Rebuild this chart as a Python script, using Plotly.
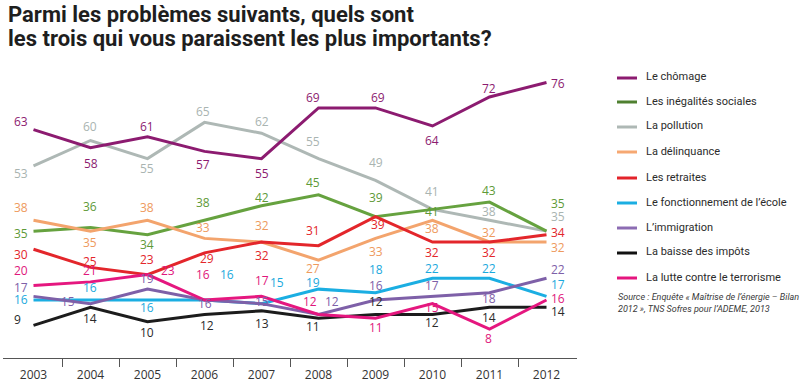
import plotly.graph_objects as go

years = [2003, 2004, 2005, 2006, 2007, 2008, 2009, 2010, 2011, 2012]
year_labels = [str(y) for y in years]

series_names = [
    "Le chômage",
    "Les inégalités sociales",
    "La pollution",
    "La délinquance",
    "Les retraites",
    "Le fonctionnement de l’école",
    "L’immigration",
    "La baisse des impôts",
    "La lutte contre le terrorisme",
]

chomage = [63, 58, 61, 57, 55, 69, 69, 64, 72, 76]
inegalites = [35, 36, 34, 38, 42, 45, 39, 41, 43, 35]
pollution = [53, 60, 55, 65, 62, 55, 49, 41, 38, 35]
delinquance = [38, 35, 38, 33, 32, 27, 33, 38, 32, 32]
retraites = [30, 25, 23, 29, 32, 31, 39, 32, 32, 34]
ecole = [16, 16, 16, 16, 15, 19, 18, 22, 22, 17]
immigration = [17, 15, 19, 16, 15, 12, 16, 17, 18, 22]
impots = [9, 14, 10, 12, 13, 11, 12, 12, 14, 14]
terrorisme = [20, 21, 23, 16, 17, 12, 11, 15, 8, 16]

values = [chomage, inegalites, pollution, delinquance, retraites,
          ecole, immigration, impots, terrorisme]

# ---- styles ----
line_colors = ["#8C1B70", "#66A23F", "#AEB8B5", "#F3A46D", "#E3262B",
               "#1BAEE2", "#7E60A8", "#1C1C1C", "#E5177F"]
label_colors = ["#8C1B70", "#5E9A38", "#A9B4B1", "#EE9A5E", "#E3262B",
                "#1BA9DD", "#7E60A8", "#2A2A2A", "#E0177C"]
legend_colors = ["#8C1B70", "#4F8030", "#AEB8B5", "#F6A872", "#E3232A",
                 "#1BAEE2", "#8C6CB3", "#111111", "#E5157E"]

# label offsets in pixels (dx right, dy down)
label_dx = [
    [-13, 0, -1, -2, 0, -6, 2, -1, -1, 11],
    [-13, -1, -1, -2, 0, -6, 0, -1, -1, 11],
    [-13, -1, -1, -2, 0, -6, 0, -1, -1, 11],
    [-13, -1, -1, -2, 0, -6, 0, -1, -1, 11],
    [-13, -1, -1, 2, 0, -6, 2, -1, -1, 11],
    [-13, -1, -1, 22, 15, -6, 0, -1, -1, 11],
    [-13, -23, -1, 0, 0, 13, 0, -1, -1, 11],
    [-16, -1, -1, 2, 0, -6, 0, -1, -1, 11],
    [-13, -1, 20, -2, 0, -9, 0, -1, -1, 11],
]
label_dy = [
    [-8, 16, -10, 13, 15, -10, -10, 14, -9, 1],
    [2, -21, 10, -18, -8, -12, -19, 2, -12, -28],
    [8, -14, 10, -11, -12, -17, -18, -18, -9, -15],
    [-13, 11, -13, -11, -17, 8, 13, 8, -10, 5],
    [5, -6, -15, 6, 13, -15, 8, 10, 10, -2],
    [-1, -13, 7, -26, -21, -7, -23, -10, -10, -12],
    [-9, -2, -11, 3, -2, -13, -15, -11, 6, -9],
    [-6, 11, 11, 11, 13, 8, -13, 8, 10, 4],
    [-15, -11, -4, -26, -16, -13, 9, 4, 9, -2],
]
# draw order (back to front)
order = [2, 1, 3, 4, 0, 5, 6, 7, 8]

W, H = 800, 386
ML, MR, MT, MB = 3, 223, 68, 28
PW = W - ML - MR
PH = H - MT - MB


def px_x(p):
    return (p - ML) / PW


def px_y(p):
    return (H - MB - p) / PH


fig = go.Figure()
for k in order:
    fig.add_trace(go.Scatter(
        x=years, y=values[k], mode="lines", name=series_names[k],
        line=dict(color=line_colors[k], width=3), showlegend=False,
        hoverinfo="skip"))

annotations = []
NUMFONT = "Open Sans, Roboto, sans-serif"
for k in range(len(values)):
    for i, (yr, v) in enumerate(zip(years, values[k])):
        annotations.append(dict(
            x=yr, y=v, xref="x", yref="y", text=str(v), showarrow=False,
            xshift=label_dx[k][i], yshift=-label_dy[k][i],
            font=dict(family=NUMFONT, size=12, color=label_colors[k])))

# title (two lines)
title_lines = ["Parmi les problèmes suivants, quels sont",
               "les trois qui vous paraissent les plus importants?"]
for t, cy in zip(title_lines, [15, 39]):
    annotations.append(dict(
        x=px_x(6), y=px_y(cy), xref="paper", yref="paper", xanchor="left",
        yanchor="middle", align="left", showarrow=False,
        text="<b>" + t + "</b>",
        font=dict(family="Roboto, sans-serif", size=22, color="#1E1E1E")))

# legend (manual)
legend_y = [77, 101, 126, 151, 177, 202, 227, 252, 277]
shapes = []
for k, ly in enumerate(legend_y):
    shapes.append(dict(type="line", xref="paper", yref="paper",
                       x0=px_x(617), x1=px_x(637), y0=px_y(ly + 1), y1=px_y(ly + 1),
                       line=dict(color=legend_colors[k], width=3)))
    annotations.append(dict(
        x=px_x(644), y=px_y(ly), xref="paper", yref="paper", xanchor="left",
        yanchor="middle", showarrow=False, text=series_names[k],
        font=dict(family="Roboto, sans-serif", size=11, color="#2B2B2B")))

annotations.append(dict(
    x=px_x(616), y=px_y(290), xref="paper", yref="paper", xanchor="left",
    yanchor="top", align="left", showarrow=False,
    text="Source : Enquête « Maîtrise de l’énergie – Bilan<br>2012 », TNS Sofres pour l’ADEME, 2013",
    font=dict(family="Roboto, sans-serif", size=9, color="#3A3A3A", style="italic")))

boundaries = [y + 0.5 for y in years[:-1]]
pad_years = 30.5 / 57.0

fig.update_layout(
    width=W, height=H,
    margin=dict(l=ML, r=MR, t=MT, b=MB, pad=0),
    paper_bgcolor="white", plot_bgcolor="white",
    showlegend=False,
    annotations=annotations, shapes=shapes,
    xaxis=dict(
        range=[years[0] - pad_years, years[-1] + pad_years],
        tickvals=years, ticktext=year_labels,
        showgrid=False, zeroline=False, showline=True, linecolor="#555555",
        linewidth=1, ticks="", ticklabelstandoff=6,
        tickfont=dict(family=NUMFONT, size=12, color="#333333"),
        minor=dict(tickmode="array", tickvals=boundaries, ticks="outside", ticklen=8,
                   tickcolor="#555555", tickwidth=1, showgrid=False),
        fixedrange=True),
    yaxis=dict(range=[0, 80], visible=False, fixedrange=True),
)

fig.write_html("out.html", post_script="document.body.style.margin='0';",
               config={"displayModeBar": False})
